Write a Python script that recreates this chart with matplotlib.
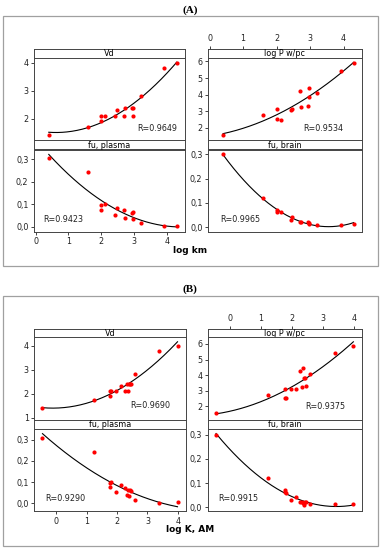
import numpy as np
import matplotlib
matplotlib.use("Agg")
import matplotlib.pyplot as plt
from matplotlib.patches import Rectangle

# ---- data ----
# (A) x = log km, shared by the four panels
xa = [0.4, 1.6, 2.0, 2.0, 2.12, 2.42, 2.47, 2.7, 2.72, 2.93, 2.97, 2.97, 3.2, 3.91, 4.3]
vd_a = [1.43, 1.71, 1.92, 2.1, 2.1, 2.1, 2.31, 2.1, 2.4, 2.4, 2.4, 2.1, 2.8, 3.79, 3.98]
logp_a = [1.58, 2.79, 3.15, 2.56, 2.5, 3.1, 3.13, 4.24, 3.25, 3.33, 4.4, 3.86, 4.1, 5.44, 5.88]
fup_a = [0.308, 0.242, 0.095, 0.077, 0.102, 0.053, 0.083, 0.073, 0.04, 0.061, 0.065, 0.034, 0.018, 0.004, 0.004]
fub_a = [0.30, 0.121, 0.071, 0.064, 0.063, 0.031, 0.041, 0.023, 0.023, 0.024, 0.019, 0.013, 0.011, 0.011, 0.012]
r_a = ["R=0.9649", "R=0.9534", "R=0.9423", "R=0.9965"]

# (B) x = log K, AM
xb = [-0.46, 1.23, 1.76, 1.78, 1.81, 1.97, 2.12, 2.26, 2.31, 2.36, 2.39, 2.43, 2.47, 2.59, 3.38, 3.99]
vd_b = [1.42, 1.73, 2.11, 1.92, 2.11, 2.11, 2.33, 2.11, 2.4, 2.11, 2.4, 2.4, 2.4, 2.81, 3.78, 3.98]
logp_b = [1.55, 2.74, 3.12, 2.51, 2.51, 3.09, 3.12, 4.26, 3.25, 4.43, 3.83, 3.83, 3.32, 4.08, 5.43, 5.87]
fup_b = [0.308, 0.24, 0.075, 0.096, 0.102, 0.055, 0.085, 0.071, 0.038, 0.064, 0.033, 0.061, 0.058, 0.017, 0.003, 0.004]
fub_b = [0.299, 0.12, 0.071, 0.064, 0.059, 0.031, 0.043, 0.023, 0.023, 0.018, 0.01, 0.023, 0.023, 0.012, 0.012, 0.012]
r_b = ["R=0.9690", "R=0.9375", "R=0.9290", "R=0.9915"]

titles = ["Vd", "log P w/pc", "fu, plasma", "fu, brain"]

W, H = 381, 550
fig = plt.figure(figsize=(W / 100, H / 100), dpi=100)
plt.rcParams["font.family"] = "DejaVu Sans"
FS = 5.8


def rect(x0, y0, x1, y1):
    # pixel box (top-left origin) -> figure fraction
    return [x0 / W, 1 - y1 / H, (x1 - x0) / W, (y1 - y0) / H]


def comma(v, pos):
    return ("%.1f" % v).replace(".", ",")


def draw_part(letter, xs, ys, rtxt, xlab, top, cols, xlim, ylims, yticks, rpos):
    # top = pixel y of the "(A)" title, layout offsets relative to it
    fig.text(190 / W, 1 - top / H, letter, ha="center", va="center",
             fontsize=8, fontweight="bold", family="Liberation Serif")
    fig.patches.append(Rectangle((3 / W, 1 - (top + 256) / H), 375 / W, 250 / H,
                                 transform=fig.transFigure, fill=False,
                                 edgecolor="#a0a0a0", lw=0.9))
    s1 = top + 39
    d1 = s1 + 8.5
    s2 = d1 + 82.5
    d2 = s2 + 9.5
    b2 = d2 + 82.3
    rows = [(s1, d1, s2), (s2, d2, b2)]
    for i in range(4):
        r, c = divmod(i, 2)
        x0, x1 = cols[c]
        st, dt, bt = rows[r]
        sax = fig.add_axes(rect(x0, st, x1, dt))
        sax.set_xlim(xlim)
        sax.set_yticks([])
        sax.text(0.5, 0.45, titles[i], ha="center", va="center", fontsize=FS,
                 transform=sax.transAxes)
        for sp in sax.spines.values():
            sp.set_color("#444444")
            sp.set_linewidth(0.7)
        if i == 1:
            sax.xaxis.tick_top()
            sax.set_xticks([0, 1, 2, 3, 4])
            sax.tick_params(axis="x", labelsize=FS, length=2.5, width=0.6, pad=1.5,
                            colors="#222222")
        else:
            sax.set_xticks([])

        ax = fig.add_axes(rect(x0, dt, x1, bt))
        x = np.array(xs)
        y = np.array(ys[i])
        # quadratic regression line as in the source figure
        cf = np.polyfit(x, y, 2)
        xx = np.linspace(x.min(), x.max(), 200)
        ax.plot(xx, np.polyval(cf, xx), color="black", lw=0.8, zorder=2)
        ax.plot(x, y, "o", color="red", ms=3.0, mec="none", zorder=3)
        ax.set_xlim(xlim)
        ax.set_ylim(ylims[i])
        ax.set_yticks(yticks[i])
        if r == 1:
            ax.yaxis.set_major_formatter(plt.FuncFormatter(comma))
        if i == 2:
            ax.set_xticks([0, 1, 2, 3, 4])
        else:
            ax.set_xticks([])
        ax.tick_params(labelsize=FS, length=2.5, width=0.6, pad=1.5, colors="#222222")
        for sp in ax.spines.values():
            sp.set_color("#444444")
            sp.set_linewidth(0.7)
        px, py, ha = rpos[i]
        ax.text(px, py, rtxt[i], transform=ax.transAxes, ha=ha, va="center",
                fontsize=FS, color="#222222")
    fig.text(190 / W, 1 - (b2 + 18.5) / H, xlab, ha="center", va="center",
             fontsize=6.5, fontweight="bold")


draw_part("(A)", xa, [vd_a, logp_a, fup_a, fub_a], r_a, "log km", 10,
          [(34, 185), (208, 362)], (-0.05, 4.55),
          [(1.25, 4.18), (1.27, 6.24), (-0.022, 0.344), (-0.018, 0.319)],
          [[2, 3, 4], [2, 3, 4, 5, 6], [0, 0.1, 0.2, 0.3], [0, 0.1, 0.2, 0.3]],
          [(0.95, 0.14, "right"), (0.88, 0.14, "right"),
           (0.06, 0.155, "left"), (0.08, 0.155, "left")])

draw_part("(B)", xb, [vd_b, logp_b, fup_b, fub_b], r_b, "log K, AM", 289.5,
          [(34.3, 186), (207.7, 362)], (-0.73, 4.27),
          [(0.93, 4.36), (1.14, 6.45), (-0.038, 0.35), (-0.017, 0.324)],
          [[1, 2, 3, 4], [2, 3, 4, 5, 6], [0, 0.1, 0.2, 0.3], [0, 0.1, 0.2, 0.3]],
          [(0.895, 0.17, "right"), (0.89, 0.16, "right"),
           (0.07, 0.15, "left"), (0.07, 0.15, "left")])

fig.savefig("out.png", dpi=100)
